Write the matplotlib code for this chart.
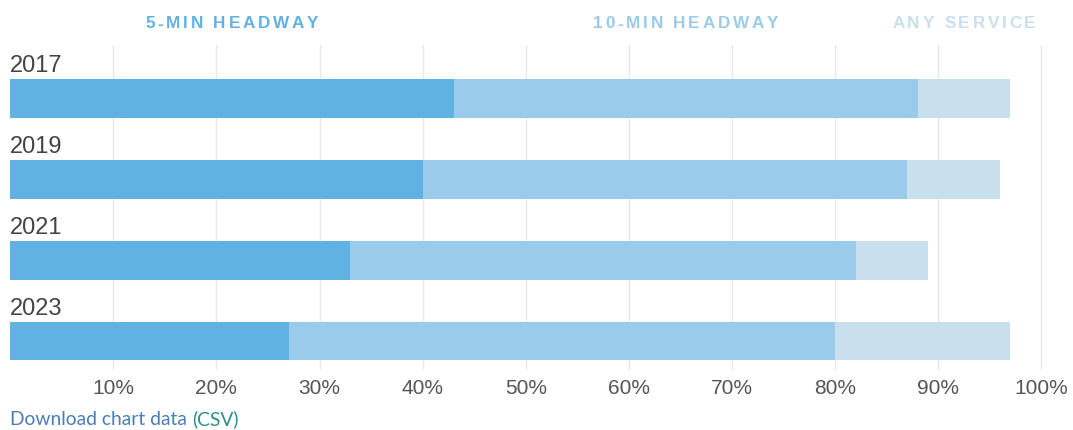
import matplotlib
matplotlib.use("Agg")
import matplotlib.pyplot as plt
from matplotlib.font_manager import FontProperties, findfont
from matplotlib.ft2font import FT2Font, LoadFlags

# data (cumulative shares, %)
years = ["2017", "2019", "2021", "2023"]
five_min = [43, 40, 33, 27]
ten_min = [88, 87, 82, 80]
any_service = [97, 96, 89, 97]
series_names = ["5-MIN HEADWAY", "10-MIN HEADWAY", "ANY SERVICE"]
colors = ["#60b2e3", "#9acbea", "#c8dfee"]
xticks = [10, 20, 30, 40, 50, 60, 70, 80, 90, 100]
xticklabels = ["%d%%" % t for t in xticks]

W, H, DPI = 1073, 430, 100


def advances(s, size, family, weight="normal"):
    # glyph advances in pixels, used for letter spaced text
    fp = FontProperties(family=family, weight=weight, size=size)
    font = FT2Font(findfont(fp))
    font.set_size(size, DPI)
    return [font.load_char(ord(c), flags=LoadFlags.NO_HINTING).linearHoriAdvance / 65536.0 for c in s]


def spaced_text(fig, cx, y, s, spacing, size, family, weight, color):
    adv = advances(s, size, family, weight)
    total = sum(adv) + spacing * (len(s) - 1)
    x = cx - total / 2.0
    for c, a in zip(s, adv):
        fig.text(x / W, y, c, ha="left", va="baseline", fontsize=size,
                 family=family, weight=weight, color=color)
        x += a + spacing


fig = plt.figure(figsize=(W / DPI, H / DPI), dpi=DPI)
xmax = 100.5
px_per = 10.311
ax = fig.add_axes([10.2 / W, 1 - 370.0 / H, xmax * px_per / W, (370.0 - 45.0) / H])

ypos = list(range(len(years)))
ax.barh(ypos, any_service, height=0.48, color=colors[2], zorder=2)
ax.barh(ypos, ten_min, height=0.48, color=colors[1], zorder=3)
ax.barh(ypos, five_min, height=0.48, color=colors[0], zorder=4)

ax.set_xlim(0, xmax)
ax.set_ylim(3.358, -0.66)
ax.set_xticks(xticks)
ax.set_xticklabels(xticklabels, fontsize=15, family="Liberation Sans", color="#555555")
ax.tick_params(axis="x", length=0, pad=6.5)
ax.set_yticks([])
for s in ax.spines.values():
    s.set_visible(False)
ax.grid(axis="x", color="#e8e8e8", linewidth=1.0, zorder=0)
ax.set_axisbelow(True)

for i, yr in enumerate(years):
    ax.text(0, i - 0.327, yr, ha="left", va="baseline", fontsize=17,
            family="Liberation Sans", color="#444444")

# series headers centred over the 2017 segments
bounds = [0, five_min[0], ten_min[0], any_service[0]]
fig.canvas.draw()
for k, name in enumerate(series_names):
    cx = ax.transData.transform(((bounds[k] + bounds[k + 1]) / 2.0, 0))[0]
    spaced_text(fig, cx, 1 - 28.5 / H, name, 2.75, 12.3, "Liberation Sans", "bold", colors[k])

# download link
dl = "Download chart data "
dl_size = 13.9
dl_adv = advances(dl, dl_size, "Lato")
fig.text(10.0 / W, 1 - 425.0 / H, dl, ha="left", va="baseline", fontsize=dl_size,
         family="Lato", color="#4a7db8")
fig.text((10.0 + sum(dl_adv)) / W, 1 - 425.0 / H, "(CSV)", ha="left", va="baseline",
         fontsize=dl_size, family="Lato", color="#2a9085")

fig.savefig("out.png", dpi=DPI)
